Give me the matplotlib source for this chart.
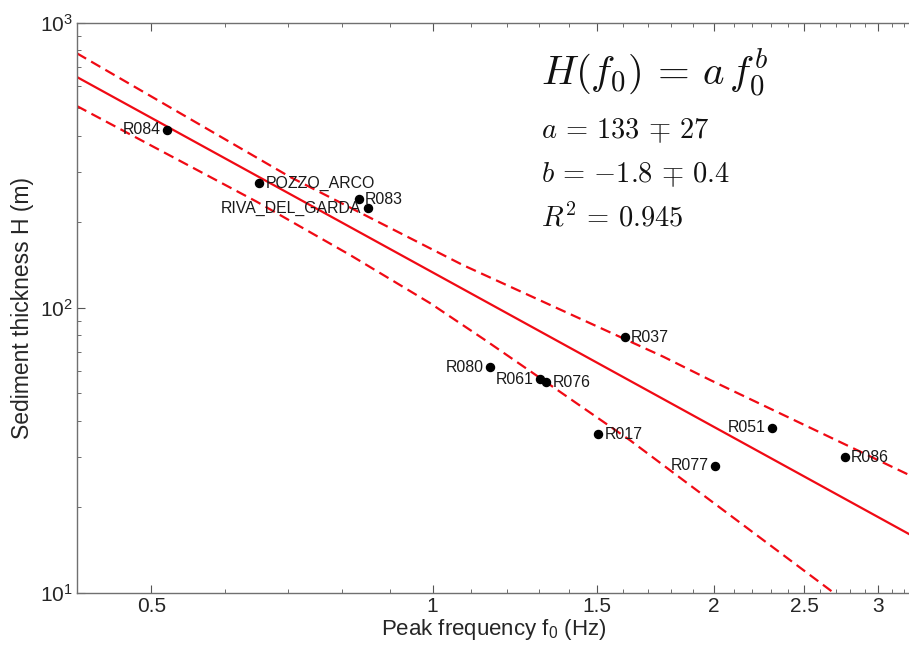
import numpy as np
import matplotlib
matplotlib.use("Agg")
import matplotlib.pyplot as plt
from matplotlib.ticker import FixedLocator, FixedFormatter, NullFormatter

plt.rcParams['font.family'] = ['Liberation Sans', 'DejaVu Sans']
plt.rcParams['mathtext.fontset'] = 'cm'

# ---- data ----
names = ['R084', 'POZZO_ARCO', 'R083', 'RIVA_DEL_GARDA', 'R037', 'R080',
         'R061', 'R076', 'R017', 'R051', 'R077', 'R086']
freq = [0.520, 0.652, 0.833, 0.852, 1.605, 1.152, 1.302, 1.323, 1.504, 2.308, 2.007, 2.762]
thick = [421, 273, 240.6, 223, 78.7, 61.9, 56.1, 54.7, 36.0, 37.9, 27.9, 29.9]
label_side = ['left', 'right', 'right', 'left', 'right', 'left',
              'left', 'right', 'right', 'left', 'left', 'right']

a_fit = 133
b_fit = -1.8

upper_f = [0.416, 0.703, 1.078, 1.766, 1.981, 3.236]
upper_H = [781, 288, 141, 67.3, 55.8, 25.9]
lower_f = [0.416, 0.648, 0.816, 0.993, 1.138, 1.303, 1.626, 2.663, 2.763]
lower_H = [510, 235.5, 153.0, 103.9, 77.0, 56.7, 34.3, 10.22, 9.31]

xticks = [0.5, 1, 1.5, 2, 2.5, 3]
xticklabels = ['0.5', '1', '1.5', '2', '2.5', '3']
yticks = [10, 100, 1000]
yticklabels = [r'$\mathregular{10^{1}}$', r'$\mathregular{10^{2}}$', r'$\mathregular{10^{3}}$']

xlim = (0.4158, 3.252)
ylim = (10, 1000)

# ---- figure ----
fig = plt.figure(figsize=(9.09, 6.6), dpi=100)
ax = fig.add_axes([76.7 / 909, (660 - 592.7) / 660, (911 - 76.7) / 909, 570 / 660])
ax.set_xscale('log')
ax.set_yscale('log')
ax.set_xlim(*xlim)
ax.set_ylim(*ylim)

red = '#f00a14'
f_line = np.geomspace(xlim[0], xlim[1], 100)
ax.plot(f_line, a_fit * f_line ** b_fit, color=red, lw=1.6, zorder=2)
l1, = ax.plot(upper_f, upper_H, color=red, lw=1.6, ls='--', zorder=2)
l2, = ax.plot(lower_f, lower_H, color=red, lw=1.6, ls='--', zorder=2)
for l in (l1, l2):
    l.set_dashes((4.8, 2.6))

ax.plot(freq, thick, 'o', color='black', ms=5.8, zorder=3)
for n, f, h, s in zip(names, freq, thick, label_side):
    dx = -4.5 if s == 'left' else 4.5
    ax.annotate(n, (f, h), xytext=(dx, 0), textcoords='offset points',
                ha='right' if s == 'left' else 'left', va='center',
                fontsize=11.4, color='#1a1a1a', zorder=4)

# ticks
ax.xaxis.set_major_locator(FixedLocator(xticks))
ax.xaxis.set_major_formatter(FixedFormatter(xticklabels))
ax.xaxis.set_minor_locator(FixedLocator(np.round(np.arange(0.5, 3.25, 0.1), 2)))
ax.xaxis.set_minor_formatter(NullFormatter())
ax.yaxis.set_major_locator(FixedLocator(yticks))
ax.yaxis.set_major_formatter(FixedFormatter(yticklabels))
ax.tick_params(which='both', direction='in', top=True, right=False, color='#555555')
ax.tick_params(which='major', length=6, labelsize=15, labelcolor='#262626')
ax.tick_params(axis='x', which='major', pad=3)
ax.tick_params(axis='y', which='major', pad=3)
ax.tick_params(which='minor', length=3)
for sp in ['left', 'bottom', 'top']:
    ax.spines[sp].set_color('#707070')
    ax.spines[sp].set_linewidth(1.0)
ax.spines['right'].set_visible(False)

ax.set_xlabel(r'Peak frequency $\mathregular{f_0}$ (Hz)', fontsize=16, color='#262626', labelpad=1)
ax.set_ylabel('Sediment thickness H (m)', fontsize=16.5, color='#262626', labelpad=4)

# formula block
ax.text(0.5565, 0.8907, r'$H(f_0) \,=\, a\,f_0^{b}$', transform=ax.transAxes,
        fontsize=29.5, va='baseline', ha='left', color='#111111')
ax.text(0.5565, 0.7982, r'$a \,=\, 133 \,\mp\, 27$', transform=ax.transAxes,
        fontsize=20.5, va='baseline', ha='left', color='#111111')
ax.text(0.5565, 0.7211, r'$b \,=\, {-1.8} \,\mp\, 0.4$', transform=ax.transAxes,
        fontsize=20.5, va='baseline', ha='left', color='#111111')
ax.text(0.5565, 0.6421, r'$R^2 \,=\, 0.945$', transform=ax.transAxes,
        fontsize=20.5, va='baseline', ha='left', color='#111111')

fig.savefig('out.png', dpi=100)
